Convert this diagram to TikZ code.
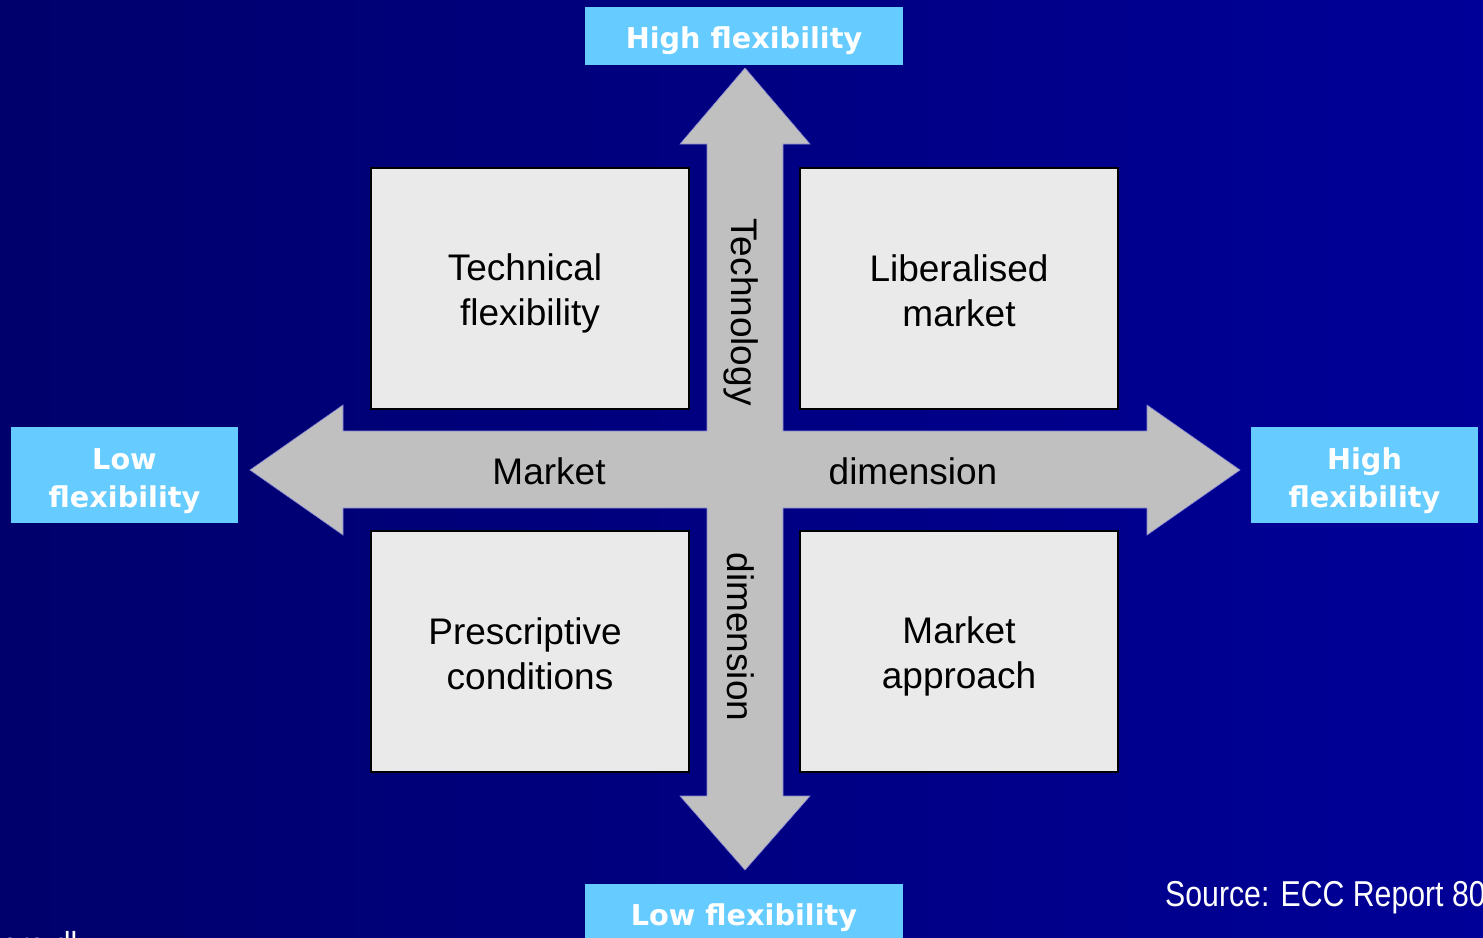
\documentclass[tikz,border=0pt]{standalone}
\usepackage{fontspec}
\setmainfont{Liberation Sans}
\newfontfamily\labfont{DejaVu Sans}
\newfontfamily\narrowfont{Liberation Sans}[FakeStretch=0.84]
\definecolor{bgleft}{HTML}{00006C}
\definecolor{bgright}{HTML}{000098}
\definecolor{arrowgray}{HTML}{C0C0C0}
\definecolor{boxgray}{HTML}{EAEAEA}
\definecolor{labblue}{HTML}{66CCFF}
\newcommand{\qs}{\rule[-6pt]{0pt}{42pt}}
\newcommand{\ls}{\rule{0pt}{34pt}}
\tikzset{
  quadbox/.style={draw=black, line width=1.5pt, fill=boxgray, minimum width=318pt, minimum height=241pt, inner sep=0pt, align=center, font=\fontsize{37}{45}\selectfont},
  flexlab/.style={fill=labblue, inner sep=0pt, align=center, text=white, font=\labfont\bfseries\fontsize{28.7}{38}\selectfont},
  flexone/.style={flexlab, minimum width=318pt, minimum height=58pt, text height=27pt, text depth=2pt},
  flextwo/.style={flexlab, minimum width=227pt, minimum height=96pt},
  axistext/.style={inner sep=0pt, font=\fontsize{37}{45}\selectfont},
  foot/.style={inner sep=0pt, text=white, font=\narrowfont\fontsize{36}{40}\selectfont},
}
\begin{document}
\begin{tikzpicture}[x=1pt,y=-1pt]
\useasboundingbox (0,0) rectangle (1483,937);
\clip (0,0) rectangle (1483,937);
\shade[left color=bgleft, right color=bgright] (0,0) rectangle (1483,937);
% cross of arrows
\fill[arrowgray, draw=arrowgray!70!blue, line width=0.6pt]
  (745,68) -- (810,144) -- (783,144) -- (783,431) -- (1147,431) -- (1147,405)
  -- (1240,470) -- (1147,535) -- (1147,508) -- (783,508) -- (783,796) -- (810,796)
  -- (745,870) -- (680,796) -- (707,796) -- (707,508) -- (343,508) -- (343,535)
  -- (250,470) -- (343,405) -- (343,431) -- (707,431) -- (707,144) -- (680,144) -- cycle;
% quadrant boxes
\node[quadbox] (tl) at (530,288.5) {\qs Technical\hspace*{10pt}\\\qs flexibility};
\node[quadbox] (tr) at (959,288.5) {\qs Liberalised\\\qs market};
\node[quadbox] (bl) at (530,651.5) {\qs Prescriptive\hspace*{10pt}\\\qs conditions};
\node[quadbox] (br) at (959,651.5) {\qs Market\\\qs approach};
% axis texts
\node[axistext] (mk) at (549,471) {Market};
\node[axistext] (md) at (913,471) {dimension};
\node[axistext, rotate=-90] (tt) at (741,312) {Technology};
\node[axistext, rotate=-90] (td) at (741,637) {dimension};
% flexibility labels
\node[flexone] (top) at (744,36) {High flexibility};
\node[flexone] (bot) at (744,913) {Low flexibility};
\node[flextwo] (lft) at (124.5,475) {\ls Low\\flexibility};
\node[flextwo] (rgt) at (1364.5,475) {\ls High\\flexibility};
% footer texts
\node[foot, anchor=west] (src) at (1165,898) {Source: ECC Report 80};
\node[foot, anchor=north east] (web) at (86,931) {www.ero.dk};
\end{tikzpicture}
\end{document}
